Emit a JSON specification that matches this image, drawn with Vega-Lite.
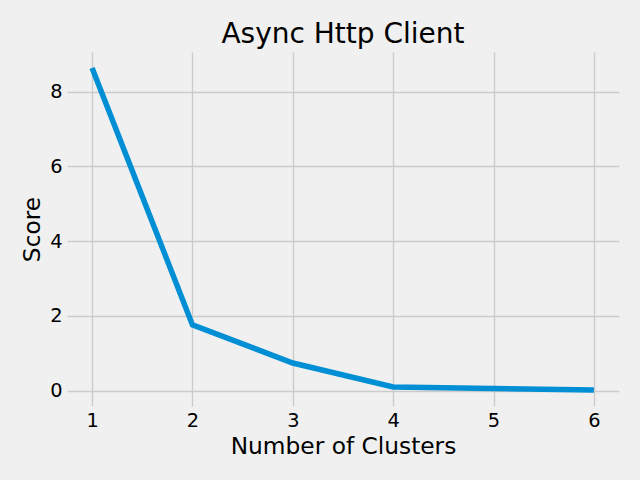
{
  "$schema": "https://vega.github.io/schema/vega-lite/v6.json",
  "width": 552,
  "height": 354,
  "autosize": {"type": "none"},
  "padding": {"left": 67, "top": 52, "right": 21, "bottom": 74},
  "background": "#f0f0f0",
  "title": {"text": "Async Http Client", "font": "DejaVu Sans", "fontSize": 28, "fontWeight": "normal", "color": "#000000", "offset": 3, "anchor": "middle"},
  "data": {"values": [
    {"k": 1, "score": 8.63},
    {"k": 2, "score": 1.76},
    {"k": 3, "score": 0.74},
    {"k": 4, "score": 0.10},
    {"k": 5, "score": 0.06},
    {"k": 6, "score": 0.02}
  ]},
  "config": {
    "view": {"stroke": null, "fill": "#f0f0f0"},
    "axis": {
      "domain": false, "ticks": false, "grid": true, "gridColor": "#cbcbcb", "gridWidth": 1.4,
      "labelFont": "DejaVu Sans", "labelFontSize": 19.4, "labelColor": "#000000",
      "titleFont": "DejaVu Sans", "titleFontSize": 23.3, "titleFontWeight": "normal", "titleColor": "#000000",
      "labelPadding": 5
    }
  },
  "mark": {"type": "line", "color": "#008fd5", "strokeWidth": 5.5, "clip": false},
  "encoding": {
    "x": {"field": "k", "type": "quantitative", "title": "Number of Clusters",
      "scale": {"domain": [0.75, 6.25], "nice": false, "zero": false},
      "axis": {"values": [1, 2, 3, 4, 5, 6], "titlePadding": 6}},
    "y": {"field": "score", "type": "quantitative", "title": "Score",
      "scale": {"domain": [-0.41, 9.06], "nice": false, "zero": false},
      "axis": {"values": [0, 2, 4, 6, 8], "titlePadding": 5}}
  }
}
